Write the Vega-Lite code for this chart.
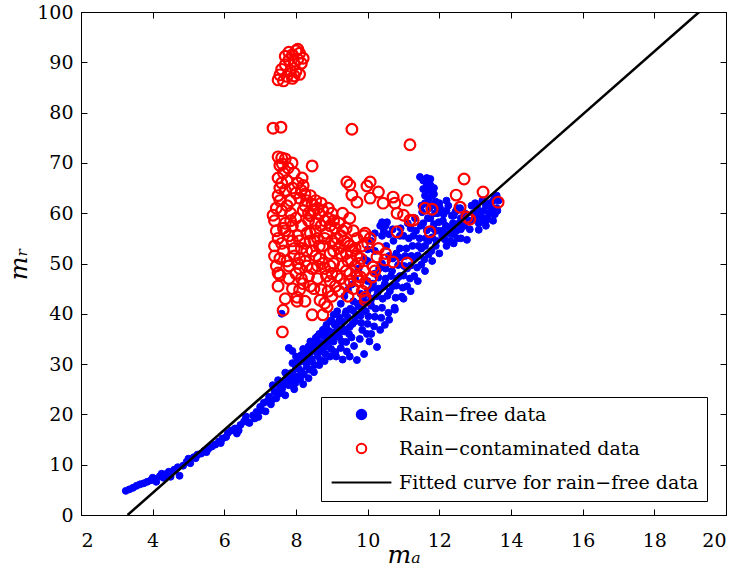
{
  "$schema": "https://vega.github.io/schema/vega-lite/v6.json",
  "width": 645,
  "height": 503,
  "autosize": {"type": "none"},
  "padding": {"left": 81, "top": 12, "right": 14, "bottom": 62},
  "background": "white",
  "config": {
    "font": "DejaVu Serif",
    "view": {"stroke": "black", "strokeWidth": 1},
    "axis": {
      "grid": false,
      "domainColor": "black",
      "domainWidth": 1,
      "tickColor": "black",
      "tickSize": -6,
      "tickWidth": 1,
      "labelColor": "black",
      "labelFont": "DejaVu Serif",
      "labelFontSize": 19,
      "titleColor": "black",
      "titleFont": "DejaVu Serif",
      "titleFontSize": 25,
      "titleFontStyle": "italic",
      "titleFontWeight": "normal"
    },
    "legend": {
      "orient": "none",
      "legendX": 240,
      "legendY": 385,
      "strokeColor": "black",
      "fillColor": "white",
      "padding": 8,
      "labelFont": "DejaVu Serif",
      "labelFontSize": 19,
      "labelColor": "black",
      "labelLimit": 600,
      "labelOffset": 28,
      "symbolOffset": 23,
      "symbolSize": 90,
      "symbolStrokeWidth": 2,
      "rowPadding": 14
    }
  },
  "datasets": {
    "free": [
      {"s":"A","x":3.25,"y":4.8},{"s":"A","x":3.35,"y":5.1},{"s":"A","x":3.45,"y":5.4},{"s":"A","x":3.55,"y":5.8},{"s":"A","x":3.65,"y":6.1},{"s":"A","x":3.75,"y":6.3},{"s":"A","x":3.85,"y":6.6},{"s":"A","x":3.95,"y":6.9},{"s":"A","x":4.05,"y":7.2},{"s":"A","x":4.1,"y":6.6},{"s":"A","x":4.2,"y":7.7},{"s":"A","x":4.25,"y":8.2},{"s":"A","x":4.35,"y":8.1},{"s":"A","x":4.45,"y":8.6},{"s":"A","x":4.5,"y":7.6},{"s":"A","x":4.6,"y":9.0},{"s":"A","x":4.7,"y":9.5},{"s":"A","x":4.75,"y":7.8},{"s":"A","x":4.85,"y":9.8},{"s":"A","x":4.95,"y":10.6},{"s":"A","x":5.05,"y":10.3},{"s":"A","x":5.15,"y":11.5},{"s":"A","x":5.25,"y":12.0},{"s":"A","x":5.35,"y":12.2},{"s":"A","x":5.45,"y":12.8},{"s":"A","x":5.55,"y":13.1},{"s":"A","x":5.65,"y":13.6},{"s":"A","x":5.75,"y":14.0},{"s":"A","x":5.85,"y":14.6},{"s":"A","x":5.95,"y":15.2},{"s":"A","x":6.05,"y":15.5},{"s":"A","x":6.1,"y":16.3},{"s":"A","x":6.2,"y":16.8},{"s":"A","x":6.3,"y":17.2},{"s":"A","x":6.35,"y":16.2},{"s":"A","x":6.45,"y":17.9},{"s":"A","x":6.55,"y":18.6},{"s":"A","x":6.6,"y":19.6},{"s":"A","x":6.7,"y":18.3},{"s":"A","x":6.8,"y":19.8},{"s":"A","x":6.9,"y":20.5},{"s":"A","x":6.95,"y":19.5},{"s":"A","x":7.0,"y":21.5},{"s":"A","x":7.1,"y":22.3},{"s":"A","x":7.15,"y":20.6},{"s":"A","x":7.25,"y":23.5},{"s":"A","x":7.3,"y":22.0},{"s":"A","x":7.4,"y":24.5},{"s":"A","x":7.45,"y":23.2},{"s":"A","x":7.55,"y":25.5},{"s":"A","x":7.6,"y":24.3},{"s":"A","x":7.65,"y":26.5},{"s":"A","x":7.7,"y":23.8},{"s":"A","x":7.75,"y":27.2},{"s":"A","x":7.8,"y":25.8},{"s":"A","x":7.85,"y":28.2},{"s":"A","x":7.9,"y":26.8},{"s":"A","x":7.95,"y":25.0},{"s":"A","x":8.0,"y":29.2},{"s":"A","x":8.05,"y":27.5},{"s":"A","x":8.1,"y":30.4},{"s":"A","x":8.15,"y":28.6},{"s":"A","x":8.2,"y":26.0},{"s":"A","x":8.25,"y":31.2},{"s":"A","x":8.3,"y":29.5},{"s":"A","x":8.35,"y":27.2},{"s":"A","x":8.4,"y":32.3},{"s":"A","x":8.45,"y":30.5},{"s":"A","x":8.5,"y":28.4},{"s":"A","x":8.55,"y":33.4},{"s":"A","x":8.6,"y":31.6},{"s":"A","x":8.65,"y":29.8},{"s":"A","x":8.7,"y":34.2},{"s":"A","x":8.75,"y":32.5},{"s":"A","x":8.8,"y":30.6},{"s":"A","x":8.85,"y":35.3},{"s":"A","x":8.9,"y":33.5},{"s":"A","x":8.95,"y":31.5},{"s":"A","x":9.0,"y":36.3},{"s":"A","x":9.05,"y":34.5},{"s":"A","x":9.1,"y":32.4},{"s":"A","x":9.15,"y":37.3},{"s":"A","x":9.2,"y":35.4},{"s":"A","x":9.25,"y":33.2},{"s":"A","x":9.3,"y":38.4},{"s":"A","x":9.35,"y":36.5},{"s":"A","x":9.4,"y":34.4},{"s":"A","x":9.45,"y":39.3},{"s":"A","x":9.5,"y":37.4},{"s":"A","x":9.55,"y":35.3},{"s":"A","x":9.6,"y":40.6},{"s":"A","x":9.65,"y":38.5},{"s":"A","x":9.7,"y":30.8},{"s":"A","x":9.75,"y":41.5},{"s":"A","x":9.8,"y":39.6},{"s":"A","x":9.85,"y":36.8},{"s":"A","x":9.9,"y":42.5},{"s":"A","x":9.95,"y":40.5},{"s":"A","x":10.0,"y":38.0},{"s":"A","x":10.0,"y":44.5},{"s":"A","x":10.05,"y":34.5},{"s":"A","x":10.1,"y":41.6},{"s":"A","x":10.15,"y":46.0},{"s":"A","x":10.2,"y":39.4},{"s":"A","x":10.25,"y":43.5},{"s":"A","x":10.3,"y":47.2},{"s":"A","x":10.35,"y":36.8},{"s":"A","x":10.4,"y":41.2},{"s":"A","x":10.45,"y":45.4},{"s":"A","x":10.5,"y":49.0},{"s":"A","x":10.55,"y":43.6},{"s":"A","x":10.6,"y":38.8},{"s":"A","x":10.65,"y":47.5},{"s":"A","x":10.7,"y":51.0},{"s":"A","x":10.75,"y":41.2},{"s":"A","x":10.8,"y":45.6},{"s":"A","x":10.85,"y":49.7},{"s":"A","x":10.9,"y":53.0},{"s":"A","x":10.95,"y":43.4},{"s":"A","x":11.0,"y":47.6},{"s":"A","x":11.05,"y":51.5},{"s":"A","x":11.1,"y":45.5},{"s":"A","x":11.15,"y":55.0},{"s":"A","x":11.2,"y":49.6},{"s":"A","x":11.25,"y":53.5},{"s":"A","x":11.3,"y":47.5},{"s":"A","x":11.35,"y":56.5},{"s":"A","x":11.4,"y":51.6},{"s":"A","x":11.45,"y":55.0},{"s":"A","x":11.5,"y":49.8},{"s":"A","x":11.55,"y":58.0},{"s":"A","x":11.6,"y":53.5},{"s":"A","x":11.65,"y":56.6},{"s":"A","x":11.7,"y":51.8},{"s":"A","x":11.75,"y":59.0},{"s":"A","x":11.8,"y":55.2},{"s":"A","x":11.85,"y":57.8},{"s":"A","x":11.9,"y":53.5},{"s":"A","x":11.95,"y":60.0},{"s":"A","x":12.0,"y":56.5},{"s":"A","x":12.1,"y":58.5},{"s":"A","x":12.15,"y":54.8},{"s":"A","x":12.2,"y":60.5},{"s":"A","x":12.3,"y":57.0},{"s":"A","x":12.35,"y":59.5},{"s":"A","x":12.4,"y":55.8},{"s":"A","x":12.5,"y":61.0},{"s":"A","x":12.55,"y":58.0},{"s":"A","x":12.6,"y":56.8},{"s":"A","x":12.7,"y":60.0},{"s":"A","x":12.8,"y":58.5},{"s":"A","x":12.9,"y":61.5},{"s":"A","x":13.0,"y":59.0},{"s":"A","x":13.1,"y":60.5},{"s":"A","x":13.2,"y":58.5},{"s":"A","x":13.3,"y":61.5},{"s":"A","x":13.4,"y":60.0},{"s":"A","x":13.5,"y":62.5},{"s":"A","x":13.6,"y":61.0},{"s":"A","x":13.55,"y":63.3},
      {"s":"A","x":9.2,"y":38.5},{"s":"A","x":9.4,"y":40.5},{"s":"A","x":9.6,"y":42.5},{"s":"A","x":9.8,"y":44.0},{"s":"A","x":10.0,"y":46.5},{"s":"A","x":10.2,"y":48.0},{"s":"A","x":10.4,"y":50.0},{"s":"A","x":10.6,"y":51.5},{"s":"A","x":10.8,"y":52.0},{"s":"A","x":10.0,"y":50.5},{"s":"A","x":10.2,"y":52.5},{"s":"A","x":10.4,"y":55.5},{"s":"A","x":10.5,"y":57.5},{"s":"A","x":10.9,"y":55.5},{"s":"A","x":11.0,"y":55.5},{"s":"A","x":11.2,"y":57.0},{"s":"A","x":10.1,"y":43.0},{"s":"A","x":10.3,"y":45.0},{"s":"A","x":10.5,"y":47.0},{"s":"A","x":10.7,"y":45.5},{"s":"A","x":10.9,"y":47.5},{"s":"A","x":11.1,"y":49.0},{"s":"A","x":11.3,"y":51.0},{"s":"A","x":11.5,"y":53.0},{"s":"A","x":11.7,"y":54.5},{"s":"A","x":11.9,"y":56.5},{"s":"A","x":12.1,"y":56.5},{"s":"A","x":12.3,"y":54.5},{"s":"A","x":12.5,"y":55.0},{"s":"A","x":12.7,"y":57.5},{"s":"A","x":12.9,"y":58.5},{"s":"A","x":13.1,"y":58.0},{"s":"A","x":13.3,"y":59.0},{"s":"A","x":13.5,"y":60.0},{"s":"A","x":13.65,"y":62.5},{"s":"A","x":9.0,"y":38.5},{"s":"A","x":8.8,"y":37.0},{"s":"A","x":8.6,"y":35.5},{"s":"A","x":8.4,"y":34.5},{"s":"A","x":8.2,"y":33.0},{"s":"A","x":8.0,"y":31.5},{"s":"A","x":7.9,"y":30.2},{"s":"A","x":7.7,"y":28.3},{"s":"A","x":7.5,"y":26.8},{"s":"A","x":7.35,"y":25.8},{"s":"A","x":7.8,"y":33.2},{"s":"A","x":7.9,"y":32.6},{"s":"A","x":7.6,"y":40.0},{"s":"A","x":9.3,"y":30.9},{"s":"A","x":9.5,"y":31.5},{"s":"A","x":9.9,"y":32.0},{"s":"A","x":10.1,"y":36.0},{"s":"A","x":10.26,"y":33.4},{"s":"A","x":10.48,"y":37.8},{"s":"A","x":10.76,"y":40.8},{"s":"A","x":11.0,"y":43.0},{"s":"A","x":11.2,"y":44.5},{"s":"A","x":11.4,"y":46.5},{"s":"A","x":11.6,"y":48.5},{"s":"A","x":11.8,"y":50.5},{"s":"A","x":12.0,"y":52.0},{"s":"A","x":12.2,"y":53.5},{"s":"A","x":12.4,"y":54.0},{"s":"A","x":12.6,"y":55.0},{"s":"A","x":12.77,"y":54.7},{"s":"A","x":13.1,"y":56.7},{"s":"A","x":13.3,"y":57.5},{"s":"A","x":11.46,"y":67.2},{"s":"A","x":11.55,"y":66.5},{"s":"A","x":11.65,"y":65.8},{"s":"A","x":11.75,"y":66.8},{"s":"A","x":11.7,"y":64.5},{"s":"A","x":11.8,"y":63.5},{"s":"A","x":11.85,"y":65.0},{"s":"A","x":11.9,"y":62.3},{"s":"A","x":11.6,"y":63.5},{"s":"A","x":11.5,"y":61.5},{"s":"A","x":10.4,"y":58.2},{"s":"A","x":10.54,"y":58.2},{"s":"A","x":10.2,"y":56.0},{"s":"A","x":12.0,"y":62.0},{"s":"A","x":12.2,"y":62.5},{"s":"A","x":12.4,"y":59.5},{"s":"A","x":12.6,"y":59.0},{"s":"A","x":13.0,"y":62.0},{"s":"A","x":13.2,"y":62.5},{"s":"A","x":13.4,"y":62.0},{"s":"A","x":13.6,"y":63.5},{"s":"A","x":13.5,"y":58.5},
      {"s":"A","x":7.52,"y":24.1},{"s":"A","x":7.62,"y":25.2},{"s":"A","x":7.72,"y":26.2},{"s":"A","x":7.82,"y":27.0},{"s":"A","x":7.92,"y":27.9},{"s":"A","x":7.98,"y":26.2},{"s":"A","x":8.08,"y":29.0},{"s":"A","x":8.12,"y":26.9},{"s":"A","x":8.18,"y":31.4},{"s":"A","x":8.22,"y":28.0},{"s":"A","x":8.28,"y":30.2},{"s":"A","x":8.32,"y":32.2},{"s":"A","x":8.38,"y":28.9},{"s":"A","x":8.42,"y":31.0},{"s":"A","x":8.48,"y":33.0},{"s":"A","x":8.52,"y":29.8},{"s":"A","x":8.58,"y":32.4},{"s":"A","x":8.62,"y":34.2},{"s":"A","x":8.68,"y":30.8},{"s":"A","x":8.72,"y":33.4},{"s":"A","x":8.78,"y":35.6},{"s":"A","x":8.82,"y":32.0},{"s":"A","x":8.88,"y":34.4},{"s":"A","x":8.92,"y":36.6},{"s":"A","x":8.98,"y":33.0},{"s":"A","x":9.02,"y":35.3},{"s":"A","x":9.08,"y":37.8},{"s":"A","x":9.12,"y":31.5},{"s":"A","x":9.18,"y":36.2},{"s":"A","x":9.22,"y":39.2},{"s":"A","x":9.28,"y":34.5},{"s":"A","x":9.32,"y":37.0},{"s":"A","x":9.38,"y":40.0},{"s":"A","x":9.42,"y":32.5},{"s":"A","x":9.48,"y":36.0},{"s":"A","x":9.52,"y":41.0},{"s":"A","x":9.58,"y":38.0},{"s":"A","x":9.62,"y":33.6},{"s":"A","x":9.68,"y":39.8},{"s":"A","x":9.72,"y":42.0},{"s":"A","x":9.78,"y":35.0},{"s":"A","x":9.82,"y":38.2},{"s":"A","x":9.88,"y":40.8},{"s":"A","x":9.92,"y":43.8},{"s":"A","x":9.98,"y":36.0},{"s":"A","x":10.02,"y":39.5},{"s":"A","x":10.08,"y":42.4},{"s":"A","x":10.12,"y":45.2},{"s":"A","x":10.18,"y":37.5},{"s":"A","x":10.22,"y":41.0},{"s":"A","x":10.28,"y":44.2},{"s":"A","x":10.32,"y":49.0},{"s":"A","x":10.38,"y":39.2},{"s":"A","x":10.42,"y":43.0},{"s":"A","x":10.48,"y":46.0},{"s":"A","x":10.52,"y":53.5},{"s":"A","x":10.58,"y":40.2},{"s":"A","x":10.62,"y":44.5},{"s":"A","x":10.68,"y":48.5},{"s":"A","x":10.72,"y":54.5},{"s":"A","x":10.78,"y":43.2},{"s":"A","x":10.82,"y":47.0},{"s":"A","x":10.88,"y":51.2},{"s":"A","x":10.92,"y":57.0},{"s":"A","x":10.98,"y":45.2},{"s":"A","x":11.02,"y":49.5},{"s":"A","x":11.08,"y":53.0},{"s":"A","x":11.12,"y":58.0},{"s":"A","x":11.18,"y":47.0},{"s":"A","x":11.22,"y":51.5},{"s":"A","x":11.28,"y":55.5},{"s":"A","x":11.32,"y":59.0},{"s":"A","x":11.38,"y":49.2},{"s":"A","x":11.42,"y":53.5},{"s":"A","x":11.48,"y":57.5},{"s":"A","x":11.52,"y":60.2},{"s":"A","x":11.58,"y":50.8},{"s":"A","x":11.62,"y":55.0},{"s":"A","x":11.68,"y":59.0},{"s":"A","x":11.72,"y":61.0},{"s":"A","x":11.78,"y":52.5},{"s":"A","x":11.82,"y":57.0},{"s":"A","x":11.88,"y":60.0},{"s":"A","x":11.92,"y":54.5},{"s":"A","x":11.98,"y":58.2},{"s":"A","x":12.02,"y":61.0},{"s":"A","x":12.08,"y":55.5},{"s":"A","x":12.12,"y":59.8},{"s":"A","x":12.18,"y":57.5},{"s":"A","x":12.25,"y":61.5},{"s":"A","x":12.28,"y":56.0},{"s":"A","x":12.38,"y":58.0},{"s":"A","x":12.45,"y":60.3},{"s":"A","x":12.48,"y":56.5},{"s":"A","x":12.58,"y":61.0},{"s":"A","x":12.65,"y":58.2},{"s":"A","x":12.75,"y":59.8},{"s":"A","x":12.85,"y":56.8},{"s":"A","x":12.95,"y":60.0},{"s":"A","x":13.05,"y":61.5},{"s":"A","x":13.15,"y":59.5},{"s":"A","x":13.25,"y":60.5},{"s":"A","x":13.35,"y":58.8},{"s":"A","x":13.45,"y":61.2},{"s":"A","x":13.55,"y":59.8},{"s":"A","x":13.62,"y":60.5},{"s":"A","x":11.6,"y":62.0},{"s":"A","x":11.7,"y":62.8},{"s":"A","x":11.8,"y":61.6},{"s":"A","x":11.75,"y":65.6},{"s":"A","x":11.55,"y":64.8},{"s":"A","x":11.65,"y":67.0},{"s":"A","x":11.85,"y":63.8},{"s":"A","x":11.95,"y":61.0},{"s":"A","x":10.45,"y":56.5},{"s":"A","x":10.6,"y":55.8},{"s":"A","x":10.35,"y":57.5},{"s":"A","x":10.7,"y":56.8},{"s":"A","x":10.1,"y":54.5},{"s":"A","x":10.0,"y":52.8},{"s":"A","x":9.9,"y":51.0},{"s":"A","x":9.75,"y":49.0},{"s":"A","x":9.65,"y":47.0},{"s":"A","x":9.55,"y":45.8},{"s":"A","x":9.45,"y":44.8},{"s":"A","x":9.35,"y":43.5},{"s":"A","x":9.25,"y":42.0},{"s":"A","x":9.15,"y":40.5},{"s":"A","x":9.05,"y":39.8},{"s":"A","x":8.95,"y":38.6},{"s":"A","x":8.85,"y":37.8},{"s":"A","x":8.75,"y":36.8},{"s":"A","x":8.65,"y":36.0},{"s":"A","x":8.55,"y":35.2},{"s":"A","x":8.45,"y":34.0},{"s":"A","x":8.35,"y":33.5},{"s":"A","x":8.25,"y":32.8},{"s":"A","x":8.15,"y":31.8},{"s":"A","x":8.05,"y":30.8},
      {"s":"A","x":5.5,"y":12.5},{"s":"A","x":5.9,"y":14.3},{"s":"A","x":6.4,"y":16.8},{"s":"A","x":6.65,"y":18.5},{"s":"A","x":6.85,"y":19.2},{"s":"A","x":7.05,"y":20.8},{"s":"A","x":7.2,"y":22.6},{"s":"A","x":7.35,"y":23.0},{"s":"A","x":4.4,"y":7.7},{"s":"A","x":4.0,"y":7.4},{"s":"A","x":4.3,"y":7.4},{"s":"A","x":5.0,"y":11.2},{"s":"A","x":5.2,"y":11.3}
    ],
    "rain": [
      {"s":"B","x":7.5,"y":86.5},{"s":"B","x":7.55,"y":87.5},{"s":"B","x":7.6,"y":88.6},{"s":"B","x":7.65,"y":86.3},{"s":"B","x":7.7,"y":89.5},{"s":"B","x":7.75,"y":87.2},{"s":"B","x":7.8,"y":90.5},{"s":"B","x":7.85,"y":88.3},{"s":"B","x":7.9,"y":91.5},{"s":"B","x":7.95,"y":89.6},{"s":"B","x":8.0,"y":92.3},{"s":"B","x":8.05,"y":90.6},{"s":"B","x":8.1,"y":91.8},{"s":"B","x":8.15,"y":89.8},{"s":"B","x":8.2,"y":90.8},{"s":"B","x":7.9,"y":86.8},{"s":"B","x":8.0,"y":88.2},{"s":"B","x":8.1,"y":87.6},{"s":"B","x":7.8,"y":92.0},{"s":"B","x":7.7,"y":91.2},{"s":"B","x":8.05,"y":92.6},{"s":"B","x":7.95,"y":87.3},
      {"s":"B","x":7.36,"y":76.9},{"s":"B","x":7.58,"y":77.1},{"s":"B","x":9.56,"y":76.7},{"s":"B","x":11.18,"y":73.6},
      {"s":"B","x":7.5,"y":71.2},{"s":"B","x":7.6,"y":71.0},{"s":"B","x":7.89,"y":70.0},{"s":"B","x":8.45,"y":69.4},{"s":"B","x":8.17,"y":67.0},{"s":"B","x":7.55,"y":69.5},{"s":"B","x":7.65,"y":68.0},{"s":"B","x":7.75,"y":66.5},{"s":"B","x":7.9,"y":65.0},{"s":"B","x":8.0,"y":64.0},{"s":"B","x":8.1,"y":63.0},{"s":"B","x":8.3,"y":62.5},{"s":"B","x":8.4,"y":63.5},{"s":"B","x":7.6,"y":66.0},{"s":"B","x":7.7,"y":64.5},{"s":"B","x":7.85,"y":62.5},{"s":"B","x":8.2,"y":65.5},
      {"s":"B","x":7.36,"y":59.6},{"s":"B","x":7.4,"y":58.5},{"s":"B","x":7.4,"y":53.5},{"s":"B","x":7.4,"y":51.5},{"s":"B","x":7.5,"y":48.1},{"s":"B","x":7.5,"y":55.0},{"s":"B","x":7.45,"y":56.5},{"s":"B","x":7.6,"y":60.5},{"s":"B","x":7.55,"y":62.5},{"s":"B","x":7.7,"y":58.0},{"s":"B","x":7.65,"y":52.5},{"s":"B","x":7.8,"y":55.5},{"s":"B","x":7.75,"y":50.5},{"s":"B","x":7.85,"y":60.0},{"s":"B","x":7.9,"y":57.5},{"s":"B","x":7.95,"y":53.0},{"s":"B","x":8.0,"y":59.0},{"s":"B","x":8.05,"y":55.5},{"s":"B","x":8.1,"y":51.0},{"s":"B","x":8.15,"y":57.5},{"s":"B","x":8.2,"y":60.5},{"s":"B","x":8.25,"y":54.0},{"s":"B","x":8.3,"y":49.5},{"s":"B","x":8.35,"y":58.5},{"s":"B","x":8.4,"y":56.0},{"s":"B","x":8.45,"y":52.5},{"s":"B","x":8.5,"y":60.5},{"s":"B","x":8.55,"y":58.0},{"s":"B","x":8.6,"y":55.0},{"s":"B","x":8.65,"y":51.0},{"s":"B","x":8.7,"y":57.5},{"s":"B","x":8.75,"y":53.5},{"s":"B","x":8.8,"y":49.0},{"s":"B","x":8.85,"y":56.0},{"s":"B","x":8.9,"y":59.0},{"s":"B","x":8.95,"y":52.0},{"s":"B","x":9.0,"y":54.5},{"s":"B","x":9.05,"y":50.0},{"s":"B","x":9.1,"y":57.0},{"s":"B","x":9.15,"y":47.5},{"s":"B","x":9.2,"y":53.0},{"s":"B","x":9.25,"y":55.5},{"s":"B","x":9.3,"y":49.5},{"s":"B","x":9.35,"y":46.0},{"s":"B","x":9.4,"y":52.0},{"s":"B","x":9.45,"y":54.0},{"s":"B","x":9.5,"y":48.0},{"s":"B","x":9.55,"y":50.5},{"s":"B","x":9.6,"y":45.0},{"s":"B","x":9.65,"y":53.0},{"s":"B","x":9.7,"y":47.5},{"s":"B","x":9.75,"y":50.0},{"s":"B","x":9.8,"y":51.0},{"s":"B","x":9.85,"y":44.5},{"s":"B","x":9.9,"y":48.5},{"s":"B","x":9.95,"y":46.0},{"s":"B","x":10.0,"y":54.0},{"s":"B","x":9.93,"y":56.0},{"s":"B","x":9.8,"y":47.3},{"s":"B","x":9.93,"y":43.3},
      {"s":"B","x":7.55,"y":47.7},{"s":"B","x":8.03,"y":43.3},{"s":"B","x":8.67,"y":42.7},{"s":"B","x":7.64,"y":40.7},{"s":"B","x":8.45,"y":39.8},{"s":"B","x":8.87,"y":41.4},{"s":"B","x":7.62,"y":36.4},{"s":"B","x":8.03,"y":42.5},{"s":"B","x":8.25,"y":42.5},{"s":"B","x":8.8,"y":42.1},{"s":"B","x":8.75,"y":39.8},{"s":"B","x":9.93,"y":42.7},{"s":"B","x":8.2,"y":46.0},{"s":"B","x":8.5,"y":45.0},{"s":"B","x":8.9,"y":44.5},{"s":"B","x":7.9,"y":45.0},{"s":"B","x":8.0,"y":48.0},{"s":"B","x":8.35,"y":47.5},{"s":"B","x":8.6,"y":47.0},{"s":"B","x":8.95,"y":46.5},{"s":"B","x":9.2,"y":44.5},{"s":"B","x":9.45,"y":43.5},{"s":"B","x":7.8,"y":49.5},{"s":"B","x":8.1,"y":49.0},{"s":"B","x":8.6,"y":49.5},{"s":"B","x":9.0,"y":48.0},
      {"s":"B","x":8.3,"y":56.0},{"s":"B","x":8.5,"y":54.5},{"s":"B","x":8.7,"y":62.0},{"s":"B","x":8.6,"y":61.0},{"s":"B","x":9.0,"y":60.0},{"s":"B","x":8.8,"y":58.5},{"s":"B","x":9.2,"y":58.0},{"s":"B","x":9.4,"y":57.0},{"s":"B","x":9.3,"y":60.0},{"s":"B","x":9.6,"y":56.5},{"s":"B","x":9.7,"y":55.0},{"s":"B","x":9.5,"y":59.0},{"s":"B","x":8.9,"y":61.0},{"s":"B","x":8.4,"y":59.5},{"s":"B","x":8.25,"y":61.5},{"s":"B","x":8.15,"y":53.0},
      {"s":"B","x":7.45,"y":61.0},{"s":"B","x":7.5,"y":63.5},{"s":"B","x":7.55,"y":65.0},{"s":"B","x":7.5,"y":67.0},{"s":"B","x":7.62,"y":69.8},{"s":"B","x":7.7,"y":70.8},{"s":"B","x":7.78,"y":69.0},{"s":"B","x":7.95,"y":68.0},{"s":"B","x":8.05,"y":66.0},{"s":"B","x":8.15,"y":64.5},{"s":"B","x":8.25,"y":63.8},{"s":"B","x":8.35,"y":60.0},{"s":"B","x":8.45,"y":61.8},{"s":"B","x":8.55,"y":62.5},{"s":"B","x":8.65,"y":59.8},{"s":"B","x":8.75,"y":60.5},{"s":"B","x":8.95,"y":57.5},{"s":"B","x":9.05,"y":58.5},{"s":"B","x":9.15,"y":55.0},{"s":"B","x":9.25,"y":52.0},{"s":"B","x":9.35,"y":54.5},{"s":"B","x":9.45,"y":50.5},{"s":"B","x":9.55,"y":52.5},{"s":"B","x":9.65,"y":49.5},{"s":"B","x":9.75,"y":46.5},{"s":"B","x":9.85,"y":53.5},{"s":"B","x":9.9,"y":55.5},{"s":"B","x":7.45,"y":49.5},{"s":"B","x":7.55,"y":51.0},{"s":"B","x":7.6,"y":54.0},{"s":"B","x":7.7,"y":56.5},{"s":"B","x":7.75,"y":61.5},{"s":"B","x":7.85,"y":58.5},{"s":"B","x":7.9,"y":54.5},{"s":"B","x":7.95,"y":51.5},{"s":"B","x":8.05,"y":50.0},{"s":"B","x":8.1,"y":54.5},{"s":"B","x":8.15,"y":47.0},{"s":"B","x":8.25,"y":50.5},{"s":"B","x":8.3,"y":52.5},{"s":"B","x":8.4,"y":54.5},{"s":"B","x":8.45,"y":49.0},{"s":"B","x":8.55,"y":51.5},{"s":"B","x":8.65,"y":53.5},{"s":"B","x":8.75,"y":50.0},{"s":"B","x":8.85,"y":47.5},{"s":"B","x":8.95,"y":49.5},{"s":"B","x":9.05,"y":52.5},{"s":"B","x":9.1,"y":45.5},{"s":"B","x":9.25,"y":47.0},{"s":"B","x":9.4,"y":48.5},{"s":"B","x":9.5,"y":46.5},{"s":"B","x":8.1,"y":44.8},{"s":"B","x":8.4,"y":45.5},{"s":"B","x":8.7,"y":44.8},{"s":"B","x":9.0,"y":43.5},{"s":"B","x":7.7,"y":43.0},{"s":"B","x":7.8,"y":47.0},{"s":"B","x":8.55,"y":56.5},{"s":"B","x":8.8,"y":55.0},{"s":"B","x":9.1,"y":54.0},{"s":"B","x":9.3,"y":56.5},{"s":"B","x":9.5,"y":53.5},{"s":"B","x":9.7,"y":51.5},{"s":"B","x":7.65,"y":57.0},{"s":"B","x":7.5,"y":45.5},
      {"s":"B","x":10.07,"y":66.2},{"s":"B","x":9.42,"y":66.2},{"s":"B","x":9.5,"y":65.6},{"s":"B","x":9.98,"y":65.4},{"s":"B","x":9.56,"y":63.6},{"s":"B","x":9.7,"y":62.2},{"s":"B","x":10.07,"y":63.0},{"s":"B","x":10.3,"y":64.2},{"s":"B","x":10.71,"y":63.2},{"s":"B","x":11.1,"y":62.6},{"s":"B","x":10.43,"y":62.0},{"s":"B","x":10.76,"y":62.0},{"s":"B","x":11.6,"y":61.0},{"s":"B","x":11.8,"y":60.8},{"s":"B","x":10.82,"y":60.0},{"s":"B","x":11.0,"y":59.6},{"s":"B","x":11.18,"y":58.6},{"s":"B","x":11.27,"y":58.6},{"s":"B","x":11.74,"y":56.3},{"s":"B","x":10.82,"y":56.3},{"s":"B","x":12.69,"y":66.8},{"s":"B","x":12.47,"y":63.6},{"s":"B","x":13.22,"y":64.2},{"s":"B","x":13.64,"y":62.2},{"s":"B","x":12.58,"y":61.2},{"s":"B","x":12.77,"y":59.2},{"s":"B","x":12.85,"y":58.8},{"s":"B","x":11.1,"y":50.1},{"s":"B","x":10.07,"y":55.0},{"s":"B","x":10.26,"y":51.3},{"s":"B","x":10.48,"y":50.7},{"s":"B","x":10.71,"y":50.3},{"s":"B","x":10.15,"y":49.3},{"s":"B","x":10.12,"y":47.3},{"s":"B","x":10.3,"y":53.0},{"s":"B","x":10.5,"y":52.0},{"s":"B","x":10.2,"y":48.5}
    ],
    "fit": [
      {"s":"C","x":3.3,"y":0},{"s":"C","x":19.25,"y":100}
    ]
  },
  "layer": [
    {
      "data": {"name": "free"},
      "mark": {"type": "point", "opacity": 1, "strokeWidth": 1, "size": 48},
      "encoding": {
        "x": {"field": "x", "type": "quantitative", "scale": {"domain": [2, 20], "nice": false, "zero": false},
              "axis": {"orient": "bottom", "values": [2,4,6,8,10,12,14,16,18,20], "title": "mₐ", "labelPadding": 22, "titleY": 47, "titleBaseline": "alphabetic"}},
        "y": {"field": "y", "type": "quantitative", "scale": {"domain": [0, 100], "nice": false},
              "axis": {"orient": "left", "values": [0,10,20,30,40,50,60,70,80,90,100], "title": "mᵣ", "labelPadding": 14, "titleX": -55, "titleBaseline": "alphabetic"}},
        "fill": {"field": "s", "type": "nominal", "scale": {"domain": ["A","B","C"], "range": ["#0000ff","transparent","#000000"]},
                 "legend": {"title": null, "labelExpr": "datum.value == 'A' ? 'Rain−free data' : datum.value == 'B' ? 'Rain−contaminated data' : 'Fitted curve for rain−free data\u00a0'"}},
        "stroke": {"field": "s", "type": "nominal", "scale": {"domain": ["A","B","C"], "range": ["#0000ff","#ff0000","#000000"]},
                   "legend": {"title": null, "labelExpr": "datum.value == 'A' ? 'Rain−free data' : datum.value == 'B' ? 'Rain−contaminated data' : 'Fitted curve for rain−free data\u00a0'"}},
        "shape": {"field": "s", "type": "nominal", "scale": {"domain": ["A","B","C"], "range": ["circle","circle","M-6.3,0H6.3"]},
                  "legend": {"title": null, "labelExpr": "datum.value == 'A' ? 'Rain−free data' : datum.value == 'B' ? 'Rain−contaminated data' : 'Fitted curve for rain−free data\u00a0'"}}
      }
    },
    {
      "data": {"name": "rain"},
      "mark": {"type": "point", "opacity": 1, "strokeWidth": 2.2, "size": 115},
      "encoding": {
        "x": {"field": "x", "type": "quantitative", "axis": null},
        "y": {"field": "y", "type": "quantitative", "axis": null},
        "fill": {"field": "s", "type": "nominal"},
        "stroke": {"field": "s", "type": "nominal"},
        "shape": {"field": "s", "type": "nominal"}
      }
    },
    {
      "data": {"name": "fit"},
      "mark": {"type": "line", "strokeWidth": 2.5, "clip": true},
      "encoding": {
        "x": {"field": "x", "type": "quantitative",
              "axis": {"orient": "top", "values": [2,4,6,8,10,12,14,16,18,20], "labels": false, "title": null}},
        "y": {"field": "y", "type": "quantitative",
              "axis": {"orient": "right", "values": [0,10,20,30,40,50,60,70,80,90,100], "labels": false, "title": null}},
        "stroke": {"field": "s", "type": "nominal"}
      }
    }
  ],
  "resolve": {"axis": {"x": "independent", "y": "independent"}}
}
